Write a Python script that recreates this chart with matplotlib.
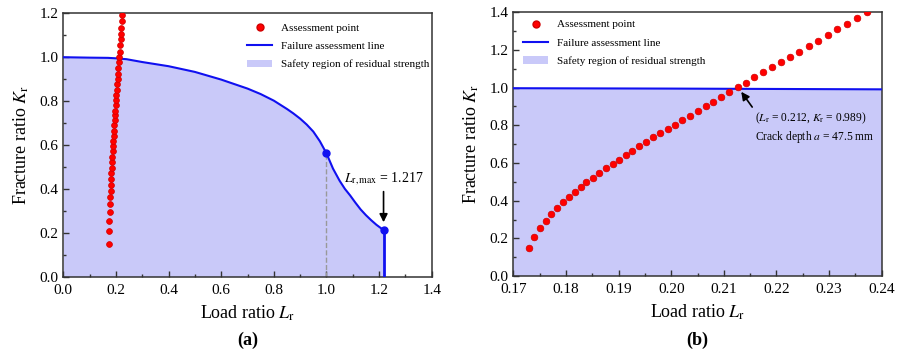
import matplotlib
matplotlib.use('Agg')
import matplotlib.pyplot as plt
from matplotlib.lines import Line2D
from matplotlib.patches import Patch

plt.rcParams['font.family'] = ['Liberation Serif', 'DejaVu Serif']
plt.rcParams['mathtext.fontset'] = 'stix'

# assessment points (load ratio, fracture ratio)
lr_pts = [0.1729, 0.1740, 0.1750, 0.1762, 0.1772, 0.1783, 0.1794, 0.1805, 0.1817, 0.1828,
          0.1839, 0.1851, 0.1863, 0.1876, 0.1889, 0.1901, 0.1914, 0.1926, 0.1939, 0.1952,
          0.1965, 0.1979, 0.1993, 0.2007, 0.2021, 0.2036, 0.2050, 0.2066, 0.2080, 0.2095,
          0.2110, 0.2126, 0.2142, 0.2158, 0.2175, 0.2192, 0.2209, 0.2225, 0.2242, 0.2261,
          0.2279, 0.2297, 0.2315, 0.2334, 0.2354, 0.2373]
kr_pts = [0.147, 0.209, 0.253, 0.294, 0.331, 0.363, 0.391, 0.419, 0.446, 0.472,
          0.497, 0.522, 0.547, 0.571, 0.594, 0.617, 0.642, 0.665, 0.690, 0.713,
          0.736, 0.757, 0.780, 0.803, 0.826, 0.852, 0.876, 0.901, 0.924, 0.950,
          0.977, 1.002, 1.026, 1.055, 1.081, 1.108, 1.134, 1.164, 1.191, 1.221,
          1.249, 1.281, 1.309, 1.339, 1.371, 1.400]

# failure assessment line
fal_lr = [0.0, 0.1, 0.17, 0.2, 0.24, 0.3, 0.4, 0.5, 0.6, 0.7, 0.75, 0.8, 0.85, 0.874,
          0.9, 0.925, 0.95, 0.975, 1.0, 1.025, 1.05, 1.07, 1.09, 1.11, 1.13, 1.15,
          1.17, 1.19, 1.217]
fal_kr = [1.000, 0.998, 0.997, 0.995, 0.991, 0.978, 0.959, 0.933, 0.898, 0.857, 0.832,
          0.802, 0.764, 0.744, 0.720, 0.693, 0.661, 0.617, 0.562, 0.492, 0.437, 0.400,
          0.370, 0.337, 0.306, 0.280, 0.257, 0.236, 0.212]
lr_max = 1.217
kr_at_max = 0.212
lr_knee = 1.0
kr_knee = 0.562

fill_c = '#c9c9f9'
line_c = '#1010f0'
pt_c = '#ff0000'

fig = plt.figure(figsize=(9.02, 3.51), dpi=100)
ax1 = fig.add_axes([0.0702, 0.2120, 0.4084, 0.7500])
ax2 = fig.add_axes([0.5691, 0.2135, 0.4084, 0.7515])

def style(ax):
    for s in ax.spines.values():
        s.set_color('#333333')
        s.set_linewidth(1.1)
    ax.tick_params(which='both', direction='in', top=False, right=False,
                   labelsize=11, color='#333333', width=1.0)
    ax.tick_params(axis='x', pad=5)
    ax.tick_params(which='major', length=4)
    ax.tick_params(which='minor', length=2.5)
    ax.set_xlabel('Load ratio $L_\\mathrm{r}$', fontsize=13, labelpad=5)
    ax.set_ylabel('Fracture ratio $K_\\mathrm{r}$', fontsize=13, labelpad=6)

def legend(ax, loc, anchor):
    handles = [Line2D([], [], ls='none', marker='o', color=pt_c, mec='#d00000', ms=5),
               Line2D([], [], color=line_c, lw=1.5),
               Patch(facecolor=fill_c, edgecolor='none')]
    labels = ['Assessment point', 'Failure assessment line',
              'Safety region of residual strength']
    ax.legend(handles, labels, loc=loc, bbox_to_anchor=anchor, frameon=False,
              fontsize=8, handlelength=2.2, labelspacing=0.75, handletextpad=0.8)

# panel (a)
ax1.fill_between(fal_lr, 0, fal_kr, color=fill_c, lw=0, zorder=1)
ax1.plot(fal_lr, fal_kr, color=line_c, lw=1.5, zorder=3)
ax1.plot([lr_max, lr_max], [0, kr_at_max], color=line_c, lw=2.0, zorder=3)
ax1.plot([lr_knee, lr_knee], [0, kr_knee], color='#999999', lw=1.0, ls='--', zorder=2)
ax1.plot([lr_knee, lr_max], [kr_knee, kr_at_max], ls='none', marker='o', ms=5,
         color=line_c, zorder=4)
ax1.plot(lr_pts, kr_pts, ls='none', marker='o', ms=4.2, color=pt_c, mec='#d00000',
         mew=0.5, zorder=5)
ax1.annotate('', xy=(lr_max, 0.235), xytext=(lr_max, 0.40),
             arrowprops=dict(arrowstyle='-|>', color='black', lw=1.2,
                             mutation_scale=12))
ax1.text(lr_max, 0.447, '$L_\\mathrm{r,max}$ = 1.217', ha='center', va='center',
         fontsize=10)
ax1.set_xlim(0, 1.4)
ax1.set_ylim(0, 1.2)
ax1.set_xticks([0.0, 0.2, 0.4, 0.6, 0.8, 1.0, 1.2, 1.4])
ax1.set_xticks([0.1, 0.3, 0.5, 0.7, 0.9, 1.1, 1.3], minor=True)
ax1.set_yticks([0.0, 0.2, 0.4, 0.6, 0.8, 1.0, 1.2])
ax1.set_yticks([0.1, 0.3, 0.5, 0.7, 0.9, 1.1], minor=True)
style(ax1)
legend(ax1, 'upper right', (1.02, 1.0))
ax1.text(0.5, -0.242, '(a)', transform=ax1.transAxes, ha='center', va='center',
         fontsize=13, fontweight='bold')

# panel (b)
ax2.fill_between(fal_lr, 0, fal_kr, color=fill_c, lw=0, zorder=1)
ax2.plot(fal_lr, fal_kr, color=line_c, lw=1.5, zorder=3)
ax2.plot(lr_pts, kr_pts, ls='none', marker='o', ms=4.8, color=pt_c, mec='#d00000',
         mew=0.5, zorder=5)
ax2.annotate('', xy=(0.2130, 0.990), xytext=(0.2157, 0.885),
             arrowprops=dict(arrowstyle='-|>', color='black', lw=1.2,
                             mutation_scale=12))
ax2.text(0.2159, 0.837, '($L_\\mathrm{r}$ = 0.212, $K_\\mathrm{r}$ = 0.989)',
         ha='left', va='center', fontsize=8.3)
ax2.text(0.2159, 0.736, 'Crack depth $a$ = 47.5 mm', ha='left', va='center',
         fontsize=8.3)
ax2.set_xlim(0.17, 0.24)
ax2.set_ylim(0, 1.4)
ax2.set_xticks([0.17, 0.18, 0.19, 0.20, 0.21, 0.22, 0.23, 0.24])
ax2.set_xticklabels(['0.17', '0.18', '0.19', '0.20', '0.21', '0.22', '0.23', '0.24'])
ax2.set_xticks([0.175, 0.185, 0.195, 0.205, 0.215, 0.225, 0.235], minor=True)
ax2.set_yticks([0.0, 0.2, 0.4, 0.6, 0.8, 1.0, 1.2, 1.4])
ax2.set_yticks([0.1, 0.3, 0.5, 0.7, 0.9, 1.1, 1.3], minor=True)
style(ax2)
legend(ax2, 'upper left', (0.0, 1.01))
ax2.text(0.5, -0.242, '(b)', transform=ax2.transAxes, ha='center', va='center',
         fontsize=13, fontweight='bold')

fig.savefig('out.png', dpi=100)
